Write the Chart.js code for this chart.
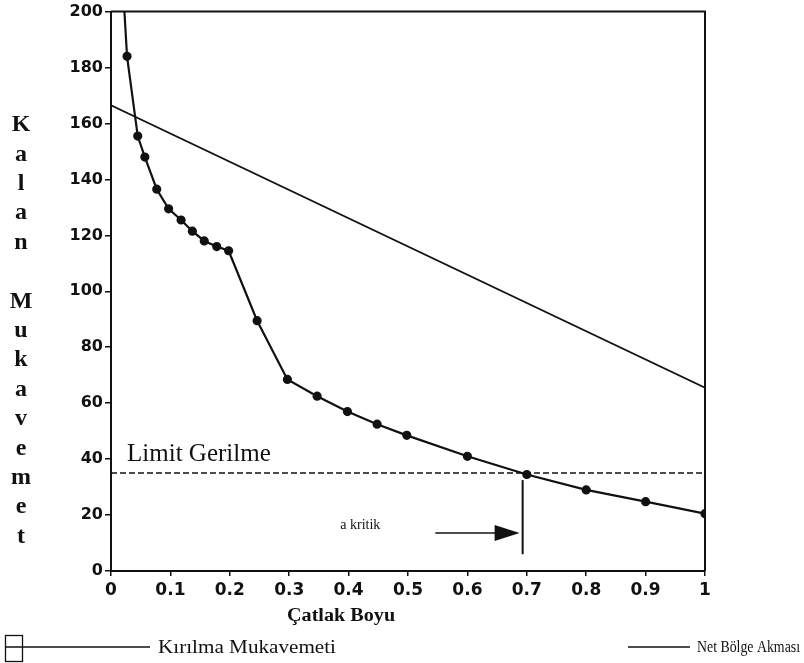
<!DOCTYPE html>
<html><head><meta charset="utf-8">
<script src="https://cdn.jsdelivr.net/npm/chart.js@4.4.1/dist/chart.umd.min.js"></script>
<style>html,body{margin:0;padding:0;background:#fff;}#wrap{width:804px;height:663px;}</style>
</head><body><div id="wrap"><canvas id="c" width="804" height="663"></canvas></div>
<script>
// ---- data ----
const crackLength = [0.0215, 0.027, 0.045, 0.057, 0.077, 0.097, 0.118, 0.137, 0.157, 0.178, 0.198, 0.246, 0.297, 0.347, 0.398, 0.448, 0.498, 0.6, 0.7, 0.8, 0.9, 1.0];
const fractureStrength = [204, 184, 155.5, 148, 136.5, 129.5, 125.5, 121.5, 118, 116, 114.5, 89.5, 68.5, 62.5, 57, 52.5, 48.5, 41, 34.5, 29, 24.8, 20.5];
const netYieldX = [0, 1];
const netYieldY = [166.5, 65.5];
const limitX = [0, 1];
const limitY = [35, 35];
const xTickLabels = ['0','0.1','0.2','0.3','0.4','0.5','0.6','0.7','0.8','0.9','1'];
const yTickLabels = ['0','20','40','60','80','100','120','140','160','180','200'];
const seriesLabels = ['Kırılma Mukavemeti', 'Net Bölge Akması'];
const limitLabel = 'Limit Gerilme';
const xTitle = 'Çatlak Boyu';
const yTitle = 'Kalan Mukavemet';
const critLabel = 'a kritik';
// annotation anchors (data units)
const critLineX = 0.693, critLineY = [6, 32.5];
const arrowX = [0.546, 0.693], arrowY = 13.6;
const critTextAt = [0.386, 16.4];
const limitTextAt = [0.027, 39.3];

const INK = '#111';
const toXY = (xs, ys) => xs.map((x, i) => ({x, y: ys[i]}));

function hText(ctx, text, x, y, font, sx, align, baseline) {
  ctx.save();
  ctx.font = font;
  ctx.fillStyle = INK;
  ctx.textAlign = align || 'left';
  ctx.textBaseline = baseline || 'alphabetic';
  ctx.translate(x, y);
  ctx.scale(sx, 1);
  ctx.fillText(text, 0, 0);
  ctx.restore();
}
function fitText(ctx, text, x0, x1, y, font) {
  ctx.save(); ctx.font = font;
  const w = ctx.measureText(text).width;
  ctx.restore();
  hText(ctx, text, x0, y, font, (x1 - x0) / w);
}

const decor = {
  id: 'decor',
  afterDatasetsDraw(chart) {
    const {ctx, chartArea: a, scales: {x, y}} = chart;
    ctx.save();
    ctx.strokeStyle = INK; ctx.lineWidth = 2;
    ctx.beginPath();
    ctx.moveTo(a.left, a.top); ctx.lineTo(a.right, a.top); ctx.lineTo(a.right, a.bottom);
    ctx.stroke();
    ctx.lineWidth = 2;
    ctx.beginPath();
    ctx.moveTo(x.getPixelForValue(critLineX), y.getPixelForValue(critLineY[0]));
    ctx.lineTo(x.getPixelForValue(critLineX), y.getPixelForValue(critLineY[1]));
    ctx.stroke();
    const ax0 = x.getPixelForValue(arrowX[0]), ax1 = x.getPixelForValue(arrowX[1]) - 3, ay = y.getPixelForValue(arrowY);
    ctx.lineWidth = 1.5;
    ctx.beginPath(); ctx.moveTo(ax0, ay); ctx.lineTo(ax1 - 20, ay); ctx.stroke();
    ctx.fillStyle = INK;
    ctx.beginPath(); ctx.moveTo(ax1, ay); ctx.lineTo(ax1 - 25, ay - 8); ctx.lineTo(ax1 - 25, ay + 8); ctx.closePath(); ctx.fill();
    ctx.restore();
    hText(ctx, limitLabel, x.getPixelForValue(limitTextAt[0]), y.getPixelForValue(limitTextAt[1]), '25px "Liberation Serif"', 1.0);
    hText(ctx, critLabel, x.getPixelForValue(critTextAt[0]), y.getPixelForValue(critTextAt[1]), '14px "Liberation Serif"', 1.0, 'left', 'middle');
  },
  afterDraw(chart) {
    const {ctx} = chart;
    yTitle.split('').forEach((ch, i) => {
      if (ch !== ' ') hText(ctx, ch, 21, 125 + i * 29.4, 'bold 24px "Liberation Serif"', 1.0, 'center', 'middle');
    });
    hText(ctx, xTitle, 287, 621, 'bold 18px "Liberation Serif"', 1.12);
    const ly = 647;
    ctx.save();
    ctx.strokeStyle = INK; ctx.lineWidth = 1.3;
    ctx.strokeRect(5.5, 635.5, 17, 26);
    ctx.beginPath(); ctx.moveTo(5, ly); ctx.lineTo(150, ly); ctx.stroke();
    ctx.beginPath(); ctx.moveTo(628, ly); ctx.lineTo(690, ly); ctx.stroke();
    ctx.restore();
    fitText(ctx, seriesLabels[0], 158, 336, ly + 6, '19px "Liberation Serif"');
    fitText(ctx, seriesLabels[1], 697, 800, ly + 5, '17px "Liberation Serif"');
  }
};

new Chart(document.getElementById('c'), {
  type: 'line',
  data: {
    datasets: [
      { label: seriesLabels[0], data: toXY(crackLength, fractureStrength), borderColor: INK, borderWidth: 2.2,
        pointRadius: fractureStrength.map(v => v > 200 ? 0 : 3.5), pointBackgroundColor: INK, pointBorderColor: INK, tension: 0 },
      { label: seriesLabels[1], data: toXY(netYieldX, netYieldY), borderColor: INK, borderWidth: 1.7, pointRadius: 0, tension: 0 },
      { label: limitLabel, data: toXY(limitX, limitY), borderColor: INK, borderWidth: 1.5, borderDash: [6, 3], pointRadius: 0, tension: 0 }
    ]
  },
  options: {
    responsive: false, animation: false, devicePixelRatio: 1,
    layout: { padding: { left: 0, top: 11, right: 99, bottom: 62 } },
    plugins: { legend: { display: false }, tooltip: { enabled: false } },
    scales: {
      x: { type: 'linear', min: 0, max: 1,
        afterFit: s => { s.height = 30; },
        ticks: { stepSize: 0.1, color: INK, padding: 4, maxRotation: 0, autoSkip: false,
          font: { family: '"DejaVu Sans"', weight: 'bold', size: 17 },
          callback: (v, i) => xTickLabels[i] },
        grid: { drawOnChartArea: false, drawTicks: true, tickLength: 5, color: INK, lineWidth: 1.5 },
        border: { display: true, color: INK, width: 2 } },
      y: { min: 0, max: 200,
        afterFit: s => { s.width = 111; },
        ticks: { stepSize: 20, color: INK, padding: 2,
          font: { family: '"DejaVu Sans"', weight: 'bold', size: 16 },
          callback: (v, i) => yTickLabels[i] },
        grid: { drawOnChartArea: false, drawTicks: true, tickLength: 6, color: INK, lineWidth: 1.5 },
        border: { display: true, color: INK, width: 2 } }
    }
  },
  plugins: [decor]
});
</script></body></html>
